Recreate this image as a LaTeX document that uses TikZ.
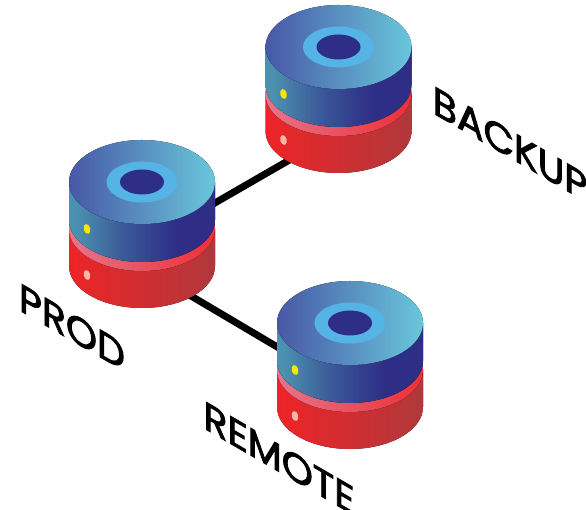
\documentclass[tikz,border=0pt]{standalone}
\usepackage{fontspec}
\setmainfont{Poppins}
\newfontfamily\tagfont[FakeBold=2.4]{Poppins}
\usetikzlibrary{calc}
\definecolor{toplft}{HTML}{4858A6}
\definecolor{toprgt}{HTML}{69C7DB}
\definecolor{ringc}{HTML}{55B3E6}
\definecolor{holec}{HTML}{2E2E86}
\definecolor{tealc}{HTML}{4C92B0}
\definecolor{redlft}{HTML}{EE2427}
\definecolor{redrgt}{HTML}{B0383B}
\definecolor{bandlft}{HTML}{E4758A}
\definecolor{bandmid}{HTML}{E6606F}
\definecolor{bandrgt}{HTML}{EE2F36}
\definecolor{ledy}{HTML}{FFE600}
\definecolor{ledp}{HTML}{F9B7A8}
\pgfdeclarehorizontalshading{blueside}{100bp}{
  color(0bp)=(tealc); color(27bp)=(tealc);
  color(43bp)=(tealc!45!holec); color(58bp)=(holec!92!tealc);
  color(62bp)=(holec); color(100bp)=(holec)}
\tikzset{
  font=\footnotesize,
  % Connector between servers
  link/.style={line width=7pt},
  % Slanted label
  tag/.style={font=\tagfont\fontsize{39.5}{40}\selectfont, inner sep=0pt,
    yslant=-0.58, transform shape},
  % Disk light
  led/.style={shift={#1}, rotate=15},
  % One server, origin at the centre of the top face
  server/.pic={
    \fill[left color=redlft, right color=redrgt] (-73,-47) -- (-73,-84)
      arc [start angle=180, end angle=360, x radius=73, y radius=42] -- (73,-47) -- cycle;
    \fill[left color=bandlft, middle color=bandmid, right color=bandrgt] (0,-47)
      ellipse [x radius=73, y radius=42];
    \fill[shading=blueside] (-73,0) -- (-73,-38)
      arc [start angle=180, end angle=360, x radius=73, y radius=42] -- (73,0) -- cycle;
    \fill[left color=toplft, right color=toprgt] (0,0) ellipse [x radius=73, y radius=42];
    \fill[ringc] (0,0) ellipse [x radius=35.5, y radius=20.5];
    \fill[holec] (0,0) ellipse [x radius=22, y radius=12.5];
    \fill[ledy, led={(-55,-47)}] (0,0) ellipse [x radius=3.3, y radius=5];
    \fill[ledp, led={(-55,-93)}] (0,0) ellipse [x radius=3.3, y radius=5];
  },
}
\begin{document}
\begin{tikzpicture}[x=1pt, y=1pt]
  \useasboundingbox (0,0) rectangle (586,510);

  \coordinate (prod-up) at (142,265);
  \coordinate (backup-dn) at (338,378);
  \coordinate (prod-dn) at (142,243);
  \coordinate (remote-up) at (350,120);

  \draw[link] (prod-up) -- (backup-dn);
  \draw[link] (prod-dn) -- (remote-up);

  \pic at (142,328) {server};
  \pic at (338.5,463) {server};
  \pic at (350,187) {server};

  \node[tag] (prod) at (72,183) {PROD};
  \node[tag] (backup) at (510,366) {BACKUP};
  \node[tag] (remote) at (279,52) {REMOTE};
\end{tikzpicture}
\end{document}
